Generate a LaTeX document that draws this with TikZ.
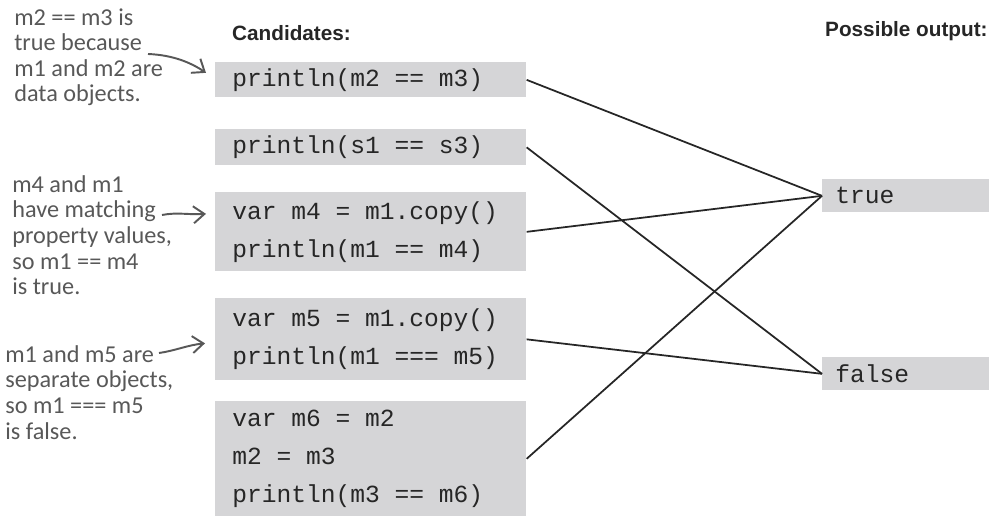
\documentclass[tikz,border=0pt]{standalone}
\usepackage{fontspec}
\setmainfont{Liberation Sans}
\newfontfamily\codefont{Liberation Mono}
\newfontfamily\notefont{Carlito}
\usetikzlibrary{arrows.meta}
\definecolor{figGris}{RGB}{213,213,215}
\definecolor{figEncre}{RGB}{38,38,38}
\definecolor{figNote}{RGB}{88,88,88}

\begin{document}
\begin{tikzpicture}[
  x=0.02cm, y=-0.02cm,
  code/.style={fill=figGris, anchor=north west, minimum width=6.22cm, inner xsep=0.34cm,
               text width=5.54cm, align=left, text=figEncre,
               font=\codefont\fontsize{14}{21.5}\selectfont,
               execute at begin node={\spaceskip=0pt\xspaceskip=0pt\relax}},
  res/.style={fill=figGris, anchor=north west, minimum width=3.34cm, minimum height=0.66cm,
              inner xsep=0.26cm, text width=2.82cm, align=left, text=figEncre,
              font=\codefont\fontsize{14}{17}\selectfont},
  titre/.style={anchor=west, text=figEncre, font=\bfseries\fontsize{11.8}{14}\selectfont},
  note/.style={anchor=north west, inner sep=0pt, align=left, text=figNote,
               font=\notefont\fontsize{13.8}{14.6}\selectfont},
  fl/.style={line width=1pt, figEncre},
  fn/.style={-{Straight Barb[length=2.2mm,width=3.4mm]}, line width=1.1pt, figNote}
]
\useasboundingbox (0,0) rectangle (1002,516);

\node[titre] (tc) at (226,33) {Candidates:};
\node[titre] (tp) at (819,31) {Possible output:};

\node[code, minimum height=0.70cm] (c1) at (215,62)  {println(m2 == m3)};
\node[code, minimum height=0.72cm] (c2) at (215,129) {println(s1 == s3)};
\node[code, minimum height=1.58cm] (c3) at (215,192) {var m4 = m1.copy()\\println(m1 == m4)};
\node[code, minimum height=1.64cm] (c4) at (215,298) {var m5 = m1.copy()\\println(m1 === m5)};
\node[code, minimum height=2.30cm] (c5) at (215,401) {var m6 = m2\\m2 = m3\\println(m3 == m6)};

\node[res] (vrai) at (822,179) {true};
\node[res] (faux) at (822,357) {false};

\draw[fl] (c1.east) -- (vrai.west);
\draw[fl] (c2.east) -- (faux.west);
\draw[fl] (c3.east) -- (vrai.west);
\draw[fl] (c4.east) -- (faux.west);
\draw[fl] (c5.east) -- (vrai.west);

% notes manuscrites
\node[note] (n1) at (14,8)   {m2 == m3 is\\true because\\m1 and m2 are\\data objects.};
\node[note] (n2) at (12,175) {m4 and m1\\have matching\\property values,\\so m1 == m4\\is true.};
\node[note] (n3) at (5,345)  {m1 and m5 are\\separate objects,\\so m1 === m5\\is false.};

\coordinate (d1) at (148,54);
\coordinate (d2) at (162,215);
\coordinate (d3) at (159,353);
\draw[fn] (d1) .. controls (172,55) and (190,62) .. ([shift={(-9,-7)}]c1.west);
\draw[fn] (d2) .. controls (177,212) and (190,215) .. ([shift={(-9,-18)}]c3.west);
\draw[fn] (d3) .. controls (174,351) and (188,345) .. ([shift={(-10,4)}]c4.west);

\end{tikzpicture}
\end{document}
